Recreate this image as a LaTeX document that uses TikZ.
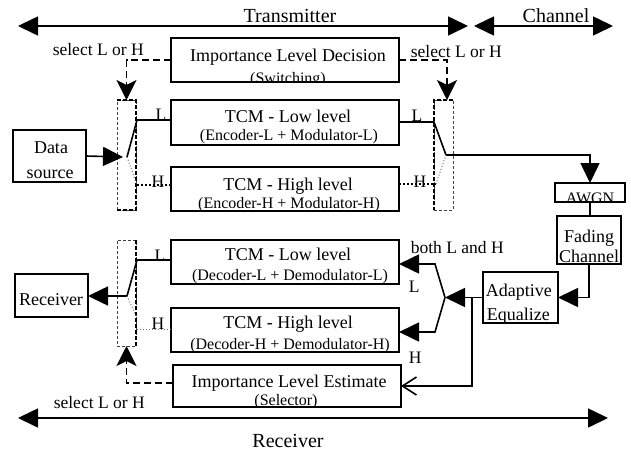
\documentclass[tikz,border=0pt]{standalone}
\usepackage{fontspec}
\setmainfont{Liberation Serif}
\usetikzlibrary{arrows.meta,calc}
\begin{document}
\begin{tikzpicture}[x=1pt,y=-1pt, line width=1.6pt,
 box/.style={draw,line width=1.6pt,inner sep=0pt,outer sep=0pt},
 tt/.style={font=\fontsize{18}{20}\selectfont,anchor=base,inner sep=0pt},
 st/.style={font=\fontsize{16}{18}\selectfont,anchor=base,inner sep=0pt},
 lb/.style={font=\fontsize{17.5}{19}\selectfont,anchor=base,inner sep=0pt},
 hd/.style={font=\fontsize{20}{22}\selectfont,anchor=base,inner sep=0pt},
 tri/.style={-{Triangle[length=20pt,width=19pt]}},
 dtri/.style={{Triangle[length=20pt,width=19pt]}-{Triangle[length=20pt,width=19pt]}},
 sel/.style={dash pattern=on 7pt off 4pt,line width=1.8pt,-{Stealth[length=20pt,width=20pt,inset=5pt]}},
 swthin/.style={draw=black!75,dash pattern=on 3pt off 2pt,line width=0.8pt,inner sep=0pt,outer sep=0pt},
 swthick/.style={dash pattern=on 4pt off 2pt,line width=2.6pt},
 dots/.style={dotted,line width=2pt},
 gdots/.style={dotted,line width=1pt,draw=black!55},
 barb/.style={-{Straight Barb[length=14pt,width=18pt]}}
]
\useasboundingbox (0,0) rectangle (631,450);

% ---- headings and extent arrows
\node[hd] (tx) at (290,22) {Transmitter};
\node[hd] (ch) at (556,22) {Channel};
\node[hd] (rx) at (288,447) {Receiver};
\coordinate (txl) at (18,26); \coordinate (txr) at (468,26);
\coordinate (chl) at (474,26); \coordinate (chr) at (613,26);
\coordinate (rxl) at (18,418); \coordinate (rxr) at (608,418);
\draw[dtri] (txl) -- (txr);
\draw[dtri] (chl) -- (chr);
\draw[dtri] (rxl) -- (rxr);

% ---- boxes
\node[box,minimum width=228pt,minimum height=44pt] (ild) at (285,60) {};
\node[tt] (ildt) at (288,61) {Importance Level Decision};
\begin{scope}\clip (ild.south west) rectangle (ild.north east);
\node[st] (ilds) at (288,83.5) {(Switching)};
\end{scope}

\node[box,minimum width=228pt,minimum height=45pt] (tl) at (285,122.5) {};
\node[tt] (tlt) at (288,122) {TCM - Low level};
\node[st] (tls) at (289,140) {(Encoder-L + Modulator-L)};

\node[box,minimum width=228pt,minimum height=44pt] (th) at (285,189) {};
\node[tt] (tht) at (288,190) {TCM - High level};
\node[st] (ths) at (289,208) {(Encoder-H + Modulator-H)};

\node[box,minimum width=228pt,minimum height=44pt] (rl) at (285,262) {};
\node[tt] (rlt) at (288,260) {TCM - Low level};
\node[st] (rls) at (290,280) {(Decoder-L + Demodulator-L)};

\node[box,minimum width=228pt,minimum height=44pt] (rh) at (285,330) {};
\node[tt] (rht) at (288,328) {TCM - High level};
\node[st] (rhs) at (290,349) {(Decoder-H + Demodulator-H)};

\node[box,minimum width=228pt,minimum height=42pt] (est) at (287,386) {};
\node[tt] (estt) at (289,387) {Importance Level Estimate};
\begin{scope}\clip (est.south west) rectangle (est.north east);
\node[st] (ests) at (286,405.5) {(Selector)};
\end{scope}

\node[box,minimum width=73pt,minimum height=52pt] (data) at (49.5,156) {};
\node[tt] (data1) at (51,153) {Data};
\node[tt] (data2) at (50,178) {source};

\node[box,minimum width=73pt,minimum height=43pt] (recv) at (51.5,295.5) {};
\node[tt] (recvt) at (51,305) {Receiver};

\node[box,minimum width=70pt,minimum height=19pt] (awgn) at (590,192.5) {};
\begin{scope}\clip (awgn.south west) rectangle (awgn.north east);
\node[st] (awgnt) at (590,203) {AWGN};
\end{scope}

\node[box,minimum width=64pt,minimum height=48pt] (fade) at (589,240) {};
\node[tt] (fade1) at (589,242) {Fading};
\node[tt] (fade2) at (589,262) {Channel};

\node[box,minimum width=75pt,minimum height=51pt] (eq) at (520.5,297.5) {};
\node[tt,anchor=base west] (eq1) at (485,296) {Adaptive};
\node[tt,anchor=base west] (eq2) at (486,320) {Equalize};

% ---- switch frames
\node[swthin,draw,minimum width=19pt,minimum height=110pt] (swTL) at (126.5,155) {};
\draw[swthick] (swTL.south west) -- (swTL.south east) -- (swTL.north east) -- (swTL.north west);
\node[swthin,draw,minimum width=19pt,minimum height=110pt] (swTR) at (443.5,155) {};
\draw[swthick] (swTR.north east) -- (swTR.north west) -- (swTR.south west);
\node[swthin,draw,minimum width=19pt,minimum height=106pt] (swRL) at (126.5,293) {};
\draw[swthick] (swRL.north east) -- (swRL.south east);

% ---- select L or H
\node[lb,anchor=base west] (s1) at (52,55) {select L or H};
\node[lb,anchor=base west] (s2) at (410,57) {select L or H};
\node[lb,anchor=base west] (s3) at (53,408) {select L or H};
\coordinate (swTRin) at (447,100);
\draw[sel] (ild.west) -| (swTL.north);
\draw[sel] (ild.east) -| (swTRin);
\draw[sel] ([yshift=3pt]est.west) -| (swRL.south);

% ---- transmitter input switch
\coordinate (pTL) at (127,157);
\coordinate (qTLl) at (137,120);
\coordinate (qTLh) at (137,185);
\draw[tri] (data.east) -- ([xshift=-4pt]pTL);
\draw (pTL) -- (qTLl) -- (qTLl -| tl.west);
\draw[gdots] (pTL) -- (qTLh);
\draw[dots] (qTLh) -- (qTLh -| th.west);
\node[lb] (lTL) at (161,120) {L};
\node[lb] (hTL) at (158,187) {H};

% ---- transmitter output switch
\coordinate (pTR) at (446,155);
\coordinate (qTRl) at (434,122);
\coordinate (qTRh) at (436,184);
\draw (tl.east |- qTRl) -- (qTRl) -- (pTR);
\draw[tri] (pTR) -| (awgn.north);
\draw[dots] (th.east |- qTRh) -- (qTRh);
\draw[gdots] (qTRh) -- (pTR);
\node[lb] (lTR) at (417,121) {L};
\node[lb] (hTR) at (420,187) {H};

% ---- channel
\draw (awgn.south) -- (awgn.south |- fade.north);
\draw[tri] (fade.south) |- (eq.east);

% ---- receiver demux
\coordinate (dm) at (445,297.5);
\coordinate (br) at (472,297.5);
\coordinate (dmL) at (435,264);
\coordinate (dmH) at (435,332);
\draw[tri] (eq.west) -- (dm);
\draw[barb] (br) |- (est.east);
\draw[tri] (dm) -- (dmL) -- (dmL -| rl.east);
\draw[tri] (dm) -- (dmH) -- (dmH -| rh.east);
\node[lb,anchor=base west] (both) at (410,253) {both L and H};
\node[lb,anchor=base west] (lR) at (408,292) {L};
\node[lb,anchor=base west] (hR) at (408,363) {H};

% ---- receiver output switch
\coordinate (pRL) at (127,296);
\coordinate (qRLl) at (137,260);
\coordinate (qRLh) at (137,318);
\coordinate (rRLh) at (137,329);
\draw (rl.west |- qRLl) -- (qRLl) -- (pRL);
\draw[tri] (pRL) -- (recv.east |- pRL);
\draw[gdots] (pRL) -- (qRLh);
\draw[gdots] (rRLh) -- (rRLh -| rh.west);
\node[lb] (lRL) at (160,261) {L};
\node[lb] (hRL) at (158,329) {H};
\end{tikzpicture}
\end{document}
